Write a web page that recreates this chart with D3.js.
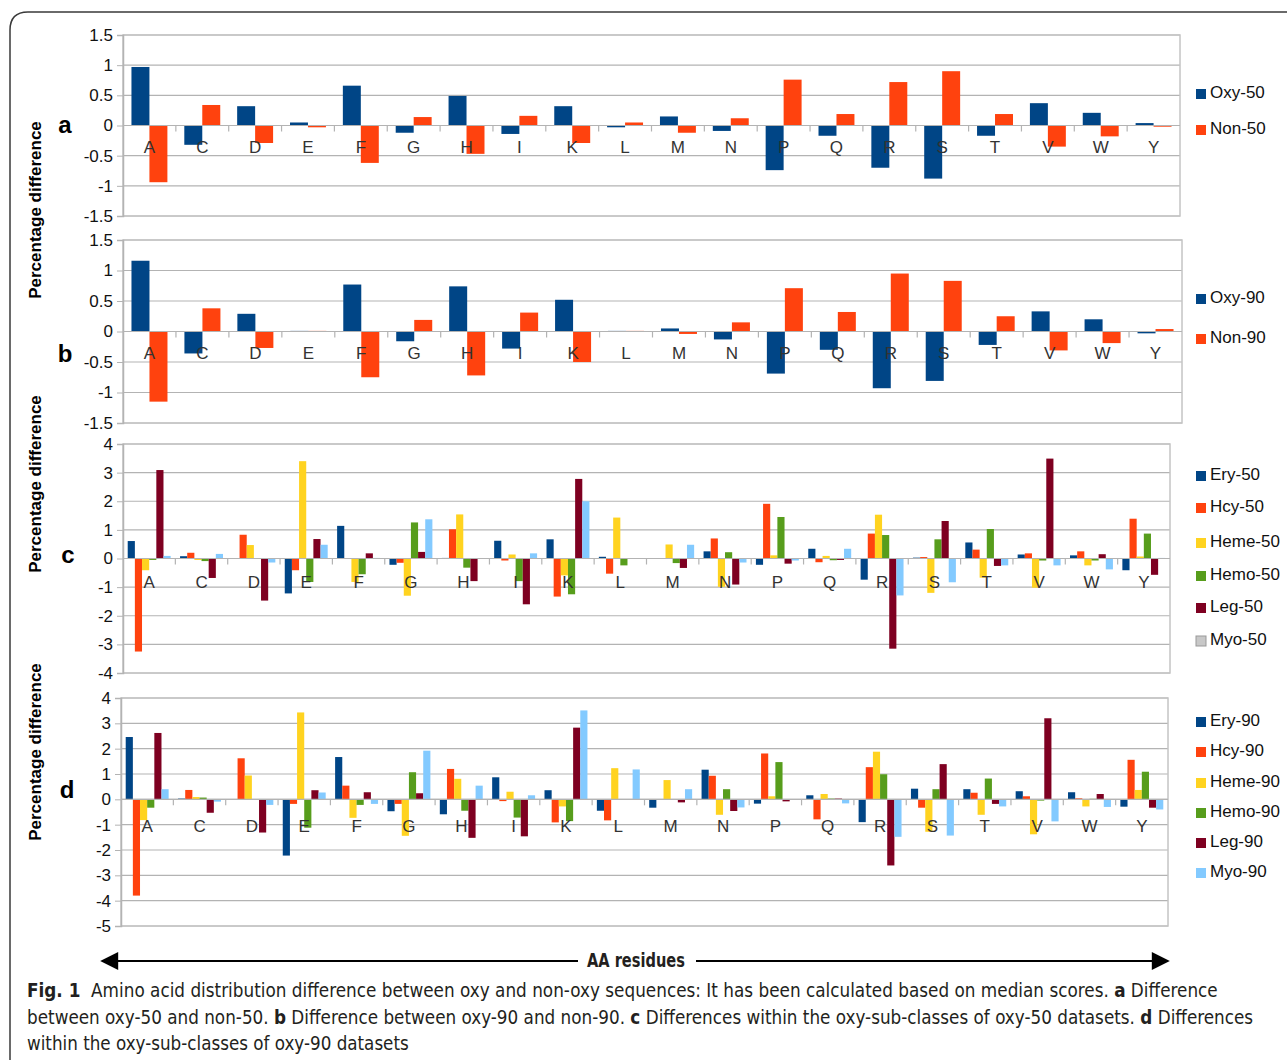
<!DOCTYPE html>
<html lang="en">
<head>
<meta charset="utf-8">
<title>Fig. 1 Amino acid distribution difference</title>
<script src="https://cdn.jsdelivr.net/npm/d3@7"></script>
<style>
  body { margin: 0; background: #fff; }
  svg text { font-family: "Liberation Sans", Arial, sans-serif; }
  .tick text { font-size: 17px; fill: #111; font-family: "Liberation Sans", Arial, sans-serif; }
  .cat { font-size: 17px; fill: #333; }
  .legend text { font-size: 17px; fill: #111; }
  .caption { font-family: "Liberation Sans Narrow", "DejaVu Sans Condensed", sans-serif; font-size: 19px; fill: #231f20; }
</style>
</head>
<body>
<div id="chart"></div>
<script>
// residues on the x axis
var residues = ["A","C","D","E","F","G","H","I","K","L","M","N","P","Q","R","S","T","V","W","Y"];

// panel a
var oxy50 = [0.97,-0.32,0.32,0.05,0.66,-0.12,0.49,-0.14,0.32,-0.03,0.15,-0.09,-0.74,-0.17,-0.70,-0.88,-0.17,0.37,0.21,0.04];
var non50 = [-0.94,0.34,-0.29,-0.03,-0.62,0.14,-0.47,0.16,-0.29,0.05,-0.12,0.12,0.76,0.19,0.72,0.90,0.19,-0.35,-0.18,-0.02];

// panel b
var oxy90 = [1.16,-0.36,0.29,0.01,0.77,-0.16,0.74,-0.28,0.52,0.01,0.05,-0.13,-0.69,-0.30,-0.93,-0.81,-0.22,0.33,0.20,-0.03];
var non90 = [-1.15,0.38,-0.27,0.01,-0.75,0.19,-0.72,0.31,-0.50,0.01,-0.04,0.15,0.71,0.32,0.95,0.83,0.25,-0.31,-0.19,0.04];

// panel c
var ery50  = [0.61,0.08,0.00,-1.22,1.14,-0.22,0.02,0.62,0.67,0.06,0.00,0.25,-0.22,0.34,-0.74,0.03,0.56,0.14,0.11,-0.41];
var hcy50  = [-3.25,0.20,0.83,-0.41,0.01,-0.15,1.02,-0.07,-1.33,-0.53,0.00,0.70,1.91,-0.13,0.87,0.05,0.31,0.18,0.25,1.39];
var heme50 = [-0.41,-0.05,0.47,3.40,-0.82,-1.30,1.54,0.14,-0.59,1.43,0.49,-0.99,0.11,0.09,1.53,-1.20,-0.67,-1.02,-0.24,0.07];
var hemo50 = [-0.05,-0.09,0.00,-0.82,-0.55,1.26,-0.32,-0.79,-1.25,-0.24,-0.16,0.22,1.45,-0.06,0.82,0.67,1.03,-0.07,-0.07,0.87];
var leg50  = [3.09,-0.68,-1.47,0.68,0.18,0.23,-0.79,-1.60,2.78,0.00,-0.33,-0.91,-0.18,-0.05,-3.15,1.31,-0.26,3.49,0.15,-0.57];
var myo50  = [0.09,0.16,-0.14,0.48,0.02,1.37,0.01,0.18,2.00,0.01,0.48,-0.14,-0.07,0.34,-1.29,-0.83,-0.24,-0.24,-0.38,0.02];

// panel d
var ery90  = [2.46,0.03,0.00,-2.22,1.67,-0.47,-0.59,0.87,0.36,-0.45,-0.33,1.17,-0.17,0.16,-0.90,0.42,0.40,0.32,0.28,-0.29];
var hcy90  = [-3.80,0.37,1.62,-0.18,0.54,-0.18,1.20,-0.07,-0.91,-0.83,0.00,0.93,1.81,-0.79,1.27,-0.33,0.26,0.12,0.04,1.56];
var heme90 = [-0.82,0.09,0.94,3.43,-0.73,-1.44,0.81,0.30,-0.28,1.23,0.76,-0.61,0.12,0.21,1.88,-1.28,-0.61,-1.38,-0.28,0.37];
var hemo90 = [-0.33,0.07,0.00,-1.12,-0.22,1.07,-0.45,-0.72,-0.86,0.00,0.00,0.40,1.47,0.03,0.99,0.40,0.82,-0.05,0.02,1.09];
var leg90  = [2.62,-0.53,-1.31,0.36,0.28,0.24,-1.52,-1.46,2.83,0.00,-0.12,-0.46,-0.08,0.03,-2.61,1.39,-0.18,3.20,0.21,-0.33];
var myo90  = [0.40,-0.09,-0.22,0.27,-0.18,1.92,0.54,0.16,3.51,1.18,0.40,-0.32,0.00,-0.16,-1.48,-1.43,-0.28,-0.87,-0.30,-0.40];

// y tick labels
var ticksAB = [-1.5,-1,-0.5,0,0.5,1,1.5];
var ticksC = [-4,-3,-2,-1,0,1,2,3,4];
var ticksD = [-5,-4,-3,-2,-1,0,1,2,3,4];

var blue = "#004586", orange = "#ff420e", yellow = "#ffd320",
    green = "#579d1c", maroon = "#7e0021", sky = "#83caff";

var panels = [
  {letter: "a", lx: 65, ly: 127, top: 35, bottom: 216, left: 123, right: 1180, ticks: ticksAB, pad: 0.32, labelDy: 23,
   legendY: [94, 130],
   series: [{name: "Oxy-50", values: oxy50, color: blue}, {name: "Non-50", values: non50, color: orange}]},
  {letter: "b", lx: 65, ly: 356, top: 240, bottom: 423, left: 123, right: 1182, ticks: ticksAB, pad: 0.32, labelDy: 23,
   legendY: [299, 339],
   series: [{name: "Oxy-90", values: oxy90, color: blue}, {name: "Non-90", values: non90, color: orange}]},
  {letter: "c", lx: 68, ly: 557, top: 444, bottom: 673, left: 123, right: 1170, ticks: ticksC, pad: 0.18, labelDy: 25,
   legendY: [476, 508, 543, 576, 608, 641],
   series: [{name: "Ery-50", values: ery50, color: blue}, {name: "Hcy-50", values: hcy50, color: orange},
            {name: "Heme-50", values: heme50, color: yellow}, {name: "Hemo-50", values: hemo50, color: green},
            {name: "Leg-50", values: leg50, color: maroon}, {name: "Myo-50", values: myo50, color: sky, swatch: "#c8c8c8"}]},
  {letter: "d", lx: 67, ly: 792, top: 698, bottom: 926, left: 121, right: 1168, ticks: ticksD, pad: 0.18, labelDy: 28,
   legendY: [722, 752, 783, 813, 843, 873],
   series: [{name: "Ery-90", values: ery90, color: blue}, {name: "Hcy-90", values: hcy90, color: orange},
            {name: "Heme-90", values: heme90, color: yellow}, {name: "Hemo-90", values: hemo90, color: green},
            {name: "Leg-90", values: leg90, color: maroon}, {name: "Myo-90", values: myo90, color: sky}]}
];

var svg = d3.select("#chart").append("svg")
    .attr("width", 1287).attr("height", 1060);

// outer frame (rounded, running off the right and bottom edges)
svg.append("path")
    .attr("d", "M10,1075 L10,30 Q10,12 28,12 L1300,12")
    .attr("fill", "none").attr("stroke", "#3a3a3a").attr("stroke-width", 1.5);

panels.forEach(function(p) {
  var g = svg.append("g");
  var y = d3.scaleLinear().domain(d3.extent(p.ticks)).range([p.bottom, p.top]);
  var x0 = d3.scaleBand().domain(residues).range([p.left, p.right])
      .paddingInner(p.pad).paddingOuter(p.pad / 2);
  var x1 = d3.scaleBand().domain(p.series.map(function(s) { return s.name; }))
      .range([0, x0.bandwidth()]);

  // gridlines
  g.selectAll("line.grid").data(p.ticks).join("line")
      .attr("class", "grid")
      .attr("x1", p.left).attr("x2", p.right)
      .attr("y1", function(d) { return y(d); }).attr("y2", function(d) { return y(d); })
      .attr("stroke", "#b3b3b3").attr("stroke-width", 1.2);

  // plot box
  g.append("rect")
      .attr("x", p.left).attr("y", p.top)
      .attr("width", p.right - p.left).attr("height", p.bottom - p.top)
      .attr("fill", "none").attr("stroke", "#c4c4c4").attr("stroke-width", 1.5);

  // y axis
  var yAxis = d3.axisLeft(y).tickValues(p.ticks).tickSize(6).tickPadding(4)
      .tickFormat(function(d) { return String(d); });
  var ax = g.append("g").attr("transform", "translate(" + p.left + ",0)").call(yAxis);
  ax.attr("font-family", null).attr("font-size", null);
  ax.select(".domain").attr("stroke", "#b3b3b3").attr("stroke-width", 1.5);
  ax.selectAll(".tick line").attr("stroke", "#b3b3b3");

  // small category ticks on the zero line
  var step = x0.step();
  g.selectAll("line.ctick").data(d3.range(1, residues.length)).join("line")
      .attr("class", "ctick")
      .attr("x1", function(i) { return p.left + i * step; })
      .attr("x2", function(i) { return p.left + i * step; })
      .attr("y1", y(0)).attr("y2", y(0) + 6)
      .attr("stroke", "#b3b3b3").attr("stroke-width", 1.2);

  // bars
  p.series.forEach(function(s) {
    g.append("g").selectAll("rect").data(s.values).join("rect")
        .attr("x", function(d, i) { return x0(residues[i]) + x1(s.name); })
        .attr("y", function(d) { return y(Math.max(0, d)); })
        .attr("width", x1.bandwidth())
        .attr("height", function(d) { return Math.abs(y(d) - y(0)); })
        .attr("fill", s.color);
  });

  // zero line
  g.append("line").attr("x1", p.left).attr("x2", p.right)
      .attr("y1", y(0)).attr("y2", y(0))
      .attr("stroke", "#b3b3b3").attr("stroke-width", 1.2);

  // category labels
  g.selectAll("text.cat").data(residues).join("text")
      .attr("class", "cat")
      .attr("x", function(d) { return x0(d) + x0.bandwidth() / 2; })
      .attr("y", y(0) + p.labelDy)
      .attr("text-anchor", "middle").attr("dominant-baseline", "middle")
      .text(function(d) { return d; });

  // panel letter
  g.append("text").attr("x", p.lx).attr("y", p.ly)
      .attr("text-anchor", "middle").attr("dominant-baseline", "middle")
      .style("font-size", "24px").style("font-weight", "bold")
      .text(p.letter);

  // legend
  var lg = g.append("g").attr("class", "legend");
  p.series.forEach(function(s, i) {
    lg.append("rect").attr("x", 1196).attr("y", p.legendY[i] - 5)
        .attr("width", 10).attr("height", 10)
        .attr("fill", s.swatch || s.color)
        .attr("stroke", s.swatch ? "#999" : "none");
    lg.append("text").attr("x", 1210).attr("y", p.legendY[i])
        .attr("dominant-baseline", "middle")
        .text(s.name);
  });
});

// vertical axis titles
[210, 484, 752].forEach(function(cy) {
  svg.append("text")
      .attr("transform", "translate(41," + cy + ") rotate(-90)")
      .attr("text-anchor", "middle")
      .style("font-size", "17px").style("font-weight", "bold")
      .text("Percentage difference");
});

// AA residues arrow
var defs = svg.append("defs");
defs.append("marker").attr("id", "arr").attr("viewBox", "0 0 10 10")
    .attr("refX", 9).attr("refY", 5)
    .attr("markerUnits", "userSpaceOnUse").attr("orient", "auto-start-reverse")
    .attr("markerWidth", 24).attr("markerHeight", 18)
    .append("path").attr("d", "M0,0 L10,5 L0,10 Z").attr("fill", "#000");
svg.append("line").attr("x1", 102).attr("x2", 1168).attr("y1", 961).attr("y2", 961)
    .attr("stroke", "#000").attr("stroke-width", 2.2)
    .attr("marker-start", "url(#arr)").attr("marker-end", "url(#arr)");
svg.append("rect").attr("x", 578).attr("y", 948).attr("width", 118).attr("height", 26).attr("fill", "#fff");
var aa = svg.append("text").attr("class", "caption")
    .style("font-weight", "bold").style("font-size", "19px")
    .text("AA residues");
var aaw = aa.node().getBBox().width;
aa.attr("transform", "translate(" + (636 - 49) + ",967) scale(" + (98 / aaw) + ",1)");

// figure caption, each line squeezed to the width it has in the figure
var captionLines = [
  {y: 997, len: 1192, parts: [["Fig. 1", true], ["  Amino acid distribution difference between oxy and non-oxy sequences: It has been calculated based on median scores. ", false], ["a", true], [" Difference", false]]},
  {y: 1024, len: 1227, parts: [["between oxy-50 and non-50. ", false], ["b", true], [" Difference between oxy-90 and non-90. ", false], ["c", true], [" Differences within the oxy-sub-classes of oxy-50 datasets. ", false], ["d", true], [" Differences", false]]},
  {y: 1050, len: 382, parts: [["within the oxy-sub-classes of oxy-90 datasets", false]]}
];
captionLines.forEach(function(l) {
  var t = svg.append("text").attr("class", "caption")
      .attr("xml:space", "preserve");
  l.parts.forEach(function(pt) {
    t.append("tspan").style("font-weight", pt[1] ? "bold" : "normal").text(pt[0]);
  });
  var w = t.node().getBBox().width;
  t.attr("transform", "translate(27," + l.y + ") scale(" + (l.len / w) + ",1)");
});
</script>
</body>
</html>
